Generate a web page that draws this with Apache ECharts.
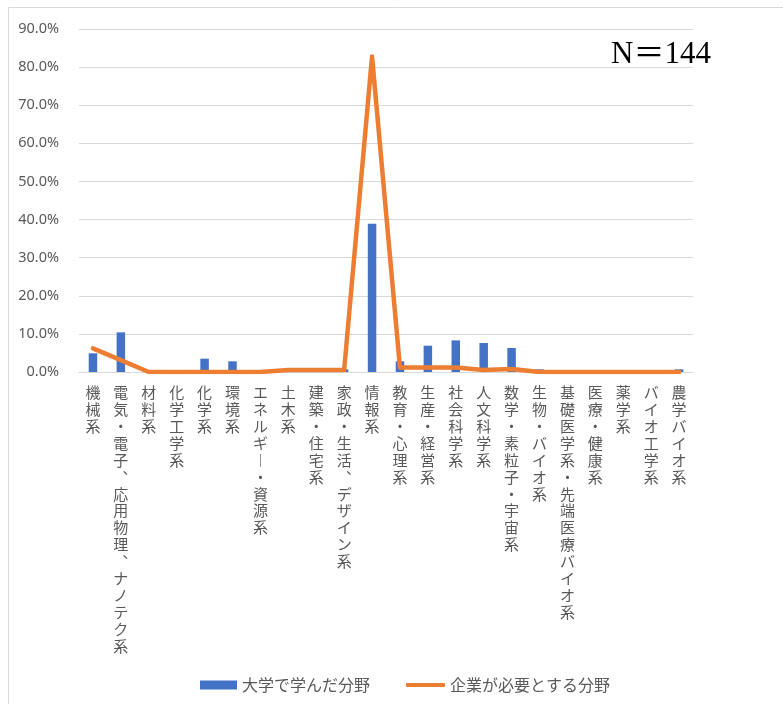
<!DOCTYPE html>
<html>
<head>
<meta charset="utf-8">
<script src="https://cdn.jsdelivr.net/npm/echarts@6/dist/echarts.min.js"></script>
<style>
  html, body { margin: 0; padding: 0; background: #fff; }
  #chart { width: 783px; height: 704px; }
</style>
</head>
<body>
<div id="chart"></div>
<script>
// Fields of study (categories along the x axis)
const categories = [
  '機械系', '電気・電子、応用物理、ナノテク系', '材料系', '化学工学系', '化学系', '環境系',
  'エネルギー・資源系', '土木系', '建築・住宅系', '家政・生活、デザイン系', '情報系',
  '教育・心理系', '生産・経営系', '社会科学系', '人文科学系', '数学・素粒子・宇宙系',
  '生物・バイオ系', '基礎医学系・先端医療バイオ系', '医療・健康系', '薬学系',
  'バイオ工学系', '農学バイオ系'
];

// Share (%) of respondents by field studied at university
const studiedValues = [
  4.9, 10.4, 0.0, 0.0, 3.5, 2.8,
  0.0, 0.0, 0.0, 0.7, 38.9,
  2.8, 6.9, 8.3, 7.6, 6.3,
  0.7, 0.4, 0.0, 0.0,
  0.0, 0.7
];

// Share (%) of fields that companies say they need
const neededValues = [
  6.2, 3.1, 0.0, 0.0, 0.0, 0.0,
  0.0, 0.5, 0.5, 0.5, 82.8,
  1.2, 1.2, 1.2, 0.5, 0.8,
  0.0, 0.0, 0.0, 0.0,
  0.0, 0.0
];

const seriesNames = ['大学で学んだ分野', '企業が必要とする分野'];
const yTicks = { min: 0, max: 90, interval: 10 };
const sampleNote = 'N＝144';

// Stack label characters vertically, using vertical presentation forms
function verticalLabel(s) {
  return s.split('').map(function (ch) {
    if (ch === 'ー') return '︱';
    if (ch === '、') return '︑';
    return ch;
  }).join('\n');
}

const legendText = { color: '#595959', fontSize: 16, fontFamily: '"Noto Sans CJK JP", sans-serif' };

const chart = echarts.init(document.getElementById('chart'), null, { renderer: 'canvas' });

chart.setOption({
  backgroundColor: '#ffffff',
  animation: false,
  textStyle: { fontFamily: '"Noto Sans CJK JP", "Noto Sans", sans-serif' },
  graphic: [
    {
      type: 'rect',
      shape: { x: 8.5, y: 7.5, width: 800, height: 800 },
      style: { fill: 'none', stroke: '#d9d9d9', lineWidth: 1 },
      silent: true,
      z: -1
    },
    {
      type: 'text',
      left: 611,
      top: 39,
      style: {
        text: sampleNote,
        fill: '#000000',
        font: '31px "Liberation Serif", "Noto Sans CJK JP", serif'
      },
      z: 10
    }
  ],
  grid: { left: 79, right: 90, top: 29, bottom: 332 },
  legend: [
    {
      left: 195,
      top: 672,
      itemWidth: 37,
      itemHeight: 9,
      textStyle: legendText,
      data: [{ name: seriesNames[0], icon: 'rect' }]
    },
    {
      left: 401,
      top: 672,
      itemWidth: 39,
      itemHeight: 4,
      textStyle: legendText,
      data: [{ name: seriesNames[1], icon: 'roundRect' }]
    }
  ],
  xAxis: {
    type: 'category',
    data: categories,
    boundaryGap: true,
    axisLine: { show: true, lineStyle: { color: '#d9d9d9', width: 1 } },
    axisTick: { show: false },
    axisLabel: {
      interval: 0,
      margin: 12,
      color: '#595959',
      fontSize: 15,
      lineHeight: 16.9,
      fontFamily: '"Noto Sans CJK JP", sans-serif',
      align: 'center',
      verticalAlign: 'top',
      formatter: function (v) { return verticalLabel(v); }
    }
  },
  yAxis: {
    type: 'value',
    min: yTicks.min,
    max: yTicks.max,
    interval: yTicks.interval,
    axisLine: { show: false },
    axisTick: { show: false },
    splitLine: { lineStyle: { color: '#d9d9d9', width: 1 } },
    axisLabel: {
      margin: 20,
      color: '#595959',
      fontSize: 14.5,
      fontFamily: '"Noto Sans", sans-serif',
      formatter: function (v) { return v.toFixed(1) + '%'; }
    }
  },
  series: [
    {
      name: seriesNames[0],
      type: 'bar',
      data: studiedValues,
      barWidth: 8.5,
      itemStyle: { color: '#4472C4' },
      z: 2
    },
    {
      name: seriesNames[1],
      type: 'line',
      data: neededValues,
      symbol: 'none',
      showSymbol: false,
      lineStyle: { color: '#ED7D31', width: 4.5, cap: 'round', join: 'round' },
      itemStyle: { color: '#ED7D31' },
      z: 3
    }
  ]
});
</script>
</body>
</html>
